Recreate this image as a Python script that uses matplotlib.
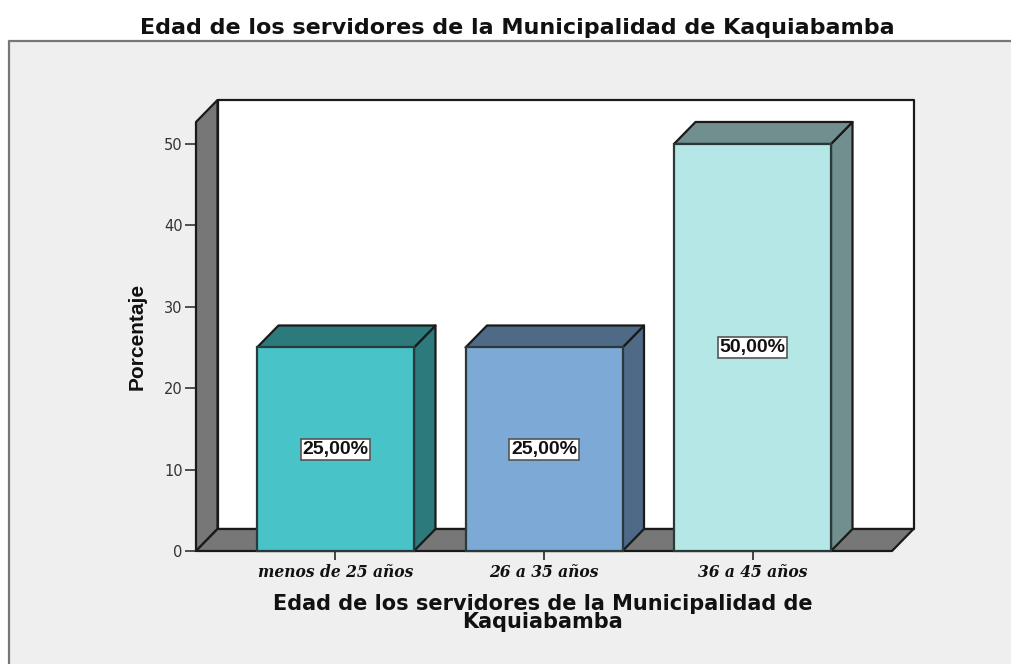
import matplotlib
matplotlib.use("Agg")
import matplotlib.pyplot as plt
from matplotlib.patches import Polygon, Rectangle

#datos
categorias = ["menos de 25 años", "26 a 35 años", "36 a 45 años"]
porcentajes = [25.0, 25.0, 50.0]
etiquetas = ["25,00%", "25,00%", "50,00%"]
ticks_y = [0, 10, 20, 30, 40, 50]

colores = ["#48C4C8", "#7DA9D6", "#B5E7E7"]
colores_lado = ["#2C7A7C", "#4E6A87", "#718F8F"]

titulo = "Edad de los servidores de la Municipalidad de Kaquiabamba"
titulo_x = "Edad de los servidores de la Municipalidad de\nKaquiabamba"

W, H = 1011, 664
fig = plt.figure(figsize=(W / 100, H / 100), dpi=100, facecolor="white")

#fondo gris con borde solo arriba y a la izquierda
fig.add_artist(Rectangle((9 / W, 0), 1 - 9 / W, 1 - 41 / H, transform=fig.transFigure,
                         facecolor="#EFEFEF", edgecolor="none", zorder=-2))
fig.add_artist(plt.Line2D([9 / W, 9 / W, 1], [0, 1 - 41 / H, 1 - 41 / H],
                          transform=fig.transFigure, color="#777777", lw=1.6, zorder=-1))

ax = fig.add_axes([196 / W, 1 - 551 / H, 696 / W, 429 / H])
ax.set_xlim(-0.669, 2.669)
ax.set_ylim(0, 52.7)
ax.patch.set_visible(False)
for s in ax.spines.values():
    s.set_visible(False)

#profundidad del efecto 3D en unidades de datos
dx = 21.5 / (696 / 3.338)
dy = 22 / (429 / 52.7)
x0, x1 = ax.get_xlim()
y1 = ax.get_ylim()[1]
borde = "#1A1A1A"


def cara(puntos, color, z):
    ax.add_patch(Polygon(puntos, closed=True, facecolor=color, edgecolor=borde, lw=1.6,
                         joinstyle="round", clip_on=False, zorder=z))


#paredes y piso
cara([(x0 + dx, dy), (x1 + dx, dy), (x1 + dx, y1 + dy), (x0 + dx, y1 + dy)], "white", 1)
cara([(x0, 0), (x0 + dx, dy), (x0 + dx, y1 + dy), (x0, y1)], "#777777", 2)
cara([(x0, 0), (x0 + dx, dy), (x1 + dx, dy), (x1, 0)], "#777777", 2)

#barras
ancho = 157 / (696 / 3.338)
for i, v in enumerate(porcentajes):
    iz, de = i - ancho / 2, i + ancho / 2
    cara([(de, 0), (de + dx, dy), (de + dx, v + dy), (de, v)], colores_lado[i], 3)
    cara([(iz, v), (iz + dx, v + dy), (de + dx, v + dy), (de, v)], colores_lado[i], 3)
    ax.bar(i, v, width=ancho, color=colores[i], edgecolor="#2A3A3A", lw=1.6, zorder=4, clip_on=False)
    ax.text(i, v / 2, etiquetas[i], ha="center", va="center", fontsize=14, color="#111111",
            family="Liberation Sans", fontweight="bold", zorder=5,
            bbox=dict(boxstyle="square,pad=0.1", facecolor="white", edgecolor="#555555", lw=1.2))

ax.set_xticks(range(len(categorias)))
ax.set_xticklabels(categorias, family="DejaVu Serif", style="italic", fontweight="bold",
                   fontsize=11.2, color="#111111")
ax.set_yticks(ticks_y)
ax.set_yticklabels([str(t) for t in ticks_y], family="DejaVu Sans", fontsize=10.5, color="#333333")
ax.tick_params(axis="x", length=6.5, width=1.4, color="#444444", pad=3)
ax.tick_params(axis="y", length=8, width=1.2, color="#333333", pad=1.5)

fig.text(517 / W, 1 - 28 / H, titulo, ha="center", va="center", family="DejaVu Sans",
         fontweight="bold", fontsize=16, color="#111111")
fig.text(543 / W, 1 - 613 / H, titulo_x, ha="center", va="center", family="DejaVu Sans",
         fontweight="bold", fontsize=15, color="#111111", linespacing=0.85)
fig.text(137 / W, 1 - 336 / H, "Porcentaje", ha="center", va="center", rotation=90,
         family="Liberation Sans", fontweight="bold", fontsize=15, color="#111111")

fig.savefig("out.png", dpi=100)
